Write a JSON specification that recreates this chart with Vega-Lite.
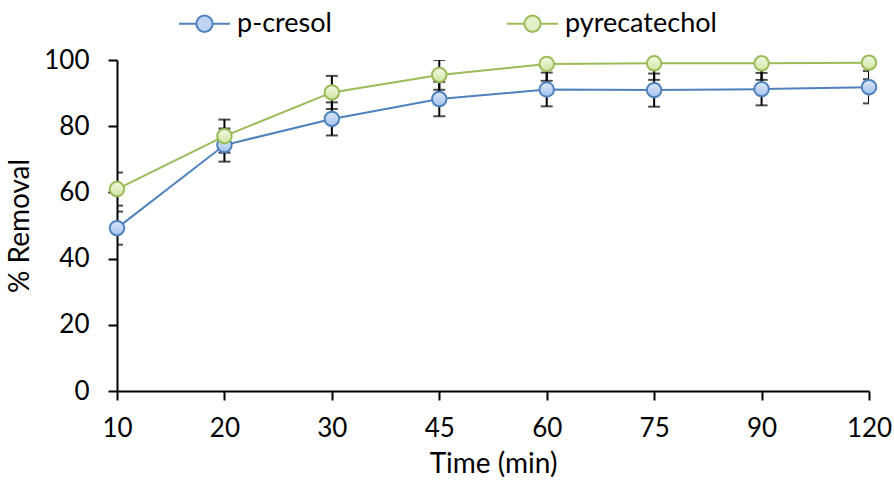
{
  "$schema": "https://vega.github.io/schema/vega-lite/v6.json",
  "autosize": "none",
  "width": 752,
  "height": 331,
  "padding": {"left": 117, "top": 60, "right": 25, "bottom": 90},
  "background": "white",
  "config": {
    "view": {"stroke": null},
    "font": "Lato",
    "axis": {"grid": false, "domainColor": "black", "tickColor": "black", "domainWidth": 2, "tickWidth": 2, "tickSize": 9, "labelColor": "black", "titleColor": "black", "labelFont": "Lato", "titleFont": "Lato", "labelFontSize": 26, "titleFontSize": 28, "titleFontWeight": "normal"}
  },
  "data": {
    "values": [
      {"time": 10, "series": "p-cresol", "removal": 49.2, "lo": 44.2, "hi": 54.2},
      {"time": 20, "series": "p-cresol", "removal": 74.3, "lo": 69.3, "hi": 79.3},
      {"time": 30, "series": "p-cresol", "removal": 82.2, "lo": 77.2, "hi": 87.2},
      {"time": 45, "series": "p-cresol", "removal": 88.2, "lo": 83.0, "hi": 93.4},
      {"time": 60, "series": "p-cresol", "removal": 91.1, "lo": 86.0, "hi": 96.2},
      {"time": 75, "series": "p-cresol", "removal": 90.9, "lo": 85.9, "hi": 95.9},
      {"time": 90, "series": "p-cresol", "removal": 91.2, "lo": 86.3, "hi": 96.1},
      {"time": 120, "series": "p-cresol", "removal": 91.8, "lo": 86.9, "hi": 96.7},
      {"time": 10, "series": "pyrecatechol", "removal": 61.0, "lo": 56.0, "hi": 66.0},
      {"time": 20, "series": "pyrecatechol", "removal": 77.0, "lo": 72.0, "hi": 82.0},
      {"time": 30, "series": "pyrecatechol", "removal": 90.2, "lo": 85.2, "hi": 95.2},
      {"time": 45, "series": "pyrecatechol", "removal": 95.5, "lo": 91.0, "hi": 100.0},
      {"time": 60, "series": "pyrecatechol", "removal": 98.8, "lo": 93.7, "hi": 103.9},
      {"time": 75, "series": "pyrecatechol", "removal": 99.0, "lo": 94.0, "hi": 104.0},
      {"time": 90, "series": "pyrecatechol", "removal": 99.0, "lo": 94.0, "hi": 104.0},
      {"time": 120, "series": "pyrecatechol", "removal": 99.2, "lo": 94.2, "hi": 104.2}
    ]
  },
  "encoding": {
    "x": {"field": "time", "type": "ordinal", "scale": {"type": "point", "padding": 0},
      "axis": {"title": "Time (min)", "labelAngle": 0, "labelPadding": 15, "titlePadding": 9}},
    "y": {"field": "removal", "type": "quantitative", "scale": {"domain": [0, 100], "nice": false},
      "axis": {"title": "% Removal", "values": [0, 20, 40, 60, 80, 100], "labelPadding": 19, "titlePadding": 9}}
  },
  "layer": [
    {
      "mark": {"type": "line", "strokeWidth": 2},
      "encoding": {
        "color": {"field": "series", "type": "nominal",
          "scale": {"domain": ["p-cresol", "pyrecatechol"], "range": ["#4F81BD", "#9BBB59"]},
          "legend": {
            "title": null, "orient": "none", "direction": "horizontal", "legendX": 61, "legendY": -63,
            "padding": 0, "columnPadding": 171, "labelFont": "Lato", "labelFontSize": 27, "labelColor": "black",
            "labelOffset": 6, "symbolSize": 2601, "symbolStrokeWidth": 2,
            "symbolType": "M-1,0H-0.32M0.32,0H1M0.32,0A0.32,0.32,0,1,1,-0.32,0A0.32,0.32,0,1,1,0.32,0Z",
            "encode": {"symbols": {"update": {"fill": {"signal": "datum.value === 'p-cresol' ? '#bfd4f2' : '#e3efc6'"}, "opacity": {"value": 1}}}}
          }
        }
      }
    },
    {
      "mark": {"type": "rule", "color": "black", "strokeWidth": 2, "clip": true},
      "encoding": {"y": {"field": "lo", "type": "quantitative"}, "y2": {"field": "hi"}}
    },
    {
      "mark": {"type": "tick", "color": "black", "thickness": 2, "size": 12, "clip": true, "orient": "horizontal"},
      "encoding": {"y": {"field": "lo", "type": "quantitative"}}
    },
    {
      "mark": {"type": "tick", "color": "black", "thickness": 2, "size": 12, "clip": true, "orient": "horizontal"},
      "encoding": {"y": {"field": "hi", "type": "quantitative"}}
    },
    {
      "transform": [{"filter": "datum.series === 'p-cresol'"}],
      "mark": {"type": "point", "filled": true, "size": 210, "opacity": 1, "strokeWidth": 2, "stroke": "#4F81BD",
        "fill": {"gradient": "linear", "x1": 0, "y1": 0, "x2": 0, "y2": 1, "stops": [{"offset": 0, "color": "#dde9f9"}, {"offset": 1, "color": "#a3c1ee"}]}}
    },
    {
      "transform": [{"filter": "datum.series === 'pyrecatechol'"}],
      "mark": {"type": "point", "filled": true, "size": 210, "opacity": 1, "strokeWidth": 2, "stroke": "#9BBB59",
        "fill": {"gradient": "linear", "x1": 0, "y1": 0, "x2": 0, "y2": 1, "stops": [{"offset": 0, "color": "#f5fae7"}, {"offset": 1, "color": "#cfe49f"}]}}
    }
  ]
}
